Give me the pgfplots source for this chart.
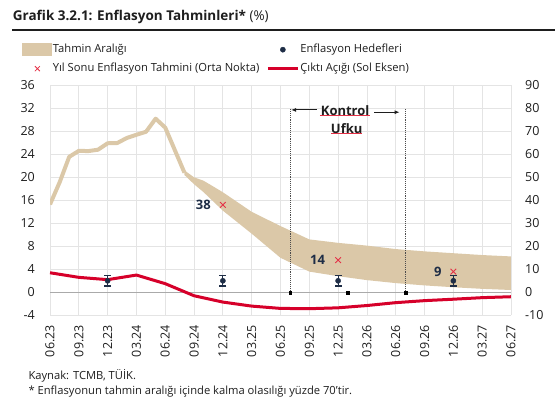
\documentclass[border=0pt]{standalone}
\usepackage{pgfplots}
\pgfplotsset{compat=1.18}
\usetikzlibrary{arrows.meta}
\usepackage{fontspec}
\setmainfont{Open Sans}
\definecolor{tanc}{RGB}{219,200,168}
\definecolor{redc}{RGB}{214,0,42}
\definecolor{crossc}{RGB}{228,48,70}
\definecolor{navyc}{RGB}{30,45,70}
\definecolor{gridc}{RGB}{228,228,228}
\definecolor{zeroc}{RGB}{170,170,170}
\definecolor{textc}{RGB}{30,30,30}
\begin{document}
\begin{tikzpicture}
\useasboundingbox (0pt,-397pt) rectangle (555pt,0pt);
\node[anchor=base west, inner sep=0pt, font=\fontsize{13.5}{16}\selectfont, text=textc] at (12.7pt,-20pt) {\textbf{Grafik 3.2.1: Enflasyon Tahminleri*} (\%)};
\draw[line width=1.2pt, textc] (12pt,-30pt) -- (555pt,-30pt);

\begin{axis}[at={(50pt,-315.3pt)}, anchor=south west, scale only axis,
  width=461pt, height=230pt, xmin=0, xmax=48, ymin=-4, ymax=36,
  xtick={0,3,...,48},
  xticklabels={06.23,09.23,12.23,03.24,06.24,09.24,12.24,03.25,06.25,09.25,12.25,03.26,06.26,09.26,12.26,03.27,06.27},
  ytick={-4,0,...,36},
  axis line style={draw=none}, major tick length=0pt,
  grid=major, grid style={gridc, line width=0.8pt},
  tick label style={font=\fontsize{12.5}{14}\selectfont, text=textc},
  /pgf/number format/assume math mode=true,
  yticklabel style={inner sep=0pt, xshift=-15pt},
  xticklabel style={yshift=-9.7pt, rotate=90, anchor=east, inner sep=0pt},
  ]
\addplot[zeroc, line width=1.3pt] coordinates {(0,0) (48,0)};
\addplot[redc, line width=3pt, line join=round] coordinates {
(0,3.4) (3,2.6) (6,2.2) (9,3.0) (12,1.5) (15,-0.6) (18,-1.7) (21,-2.4) (24,-2.8)
(27,-2.85) (30,-2.7) (33,-2.3) (36,-1.8) (39,-1.45) (42,-1.2) (45,-0.93) (48,-0.77)};
\end{axis}

\begin{axis}[at={(50pt,-315.3pt)}, anchor=south west, scale only axis,
  width=461pt, height=230pt, xmin=0, xmax=48, ymin=-10, ymax=90,
  xtick=\empty, ytick={-10,0,...,90}, yticklabel pos=right,
  axis line style={draw=none}, major tick length=0pt,
  tick label style={font=\fontsize{12.5}{14}\selectfont, text=textc},
  /pgf/number format/assume math mode=true,
  yticklabel style={inner sep=0pt, xshift=14pt},
  legend columns=2, legend cell align=left,
  legend style={at={(axis description cs:-0.0614,1.184)}, anchor=north west,
    draw=none, fill=none, inner sep=0pt, row sep=6pt,
    font=\fontsize{11.2}{13}\selectfont, text=textc,
    nodes={inner sep=1pt, text height=8.2pt, text depth=2.8pt},
    /tikz/every even column/.append style={column sep=6pt}},
  ]
\addplot[fill=tanc, draw=none, legend image code/.code={\fill[tanc] (0pt,-6.3pt) rectangle (30pt,6.3pt);}] coordinates {
(14,53) (15,50.0) (16,48.5) (18,43.5) (21,35.0) (24,28.8) (27,23.0) (30,21.5)
(33,20.3) (36,18.8) (39,17.8) (42,17.0) (45,16.2) (48,15.6)
(48,1.0) (45,1.5) (42,2.2) (39,3.0) (36,4.0) (33,5.3) (30,7.0) (27,9.0) (24,15.0)
(21,25.5) (18,35.5) (16,43.5) (15,47.0) (14,51)};
\addlegendentry{Tahmin Aralığı}
\addplot[tanc, line width=4pt, line join=round, forget plot] coordinates {
(0,38.2) (1,47.8) (2,58.9) (3,61.5) (4,61.4) (5,62.0) (6,64.8) (7,64.9) (8,67.1)
(9,68.5) (10,69.8) (11,75.5) (12,71.6) (13,61.8) (14,52.0)};
\addplot[only marks, mark=*, mark size=2.6pt, navyc, forget plot,
  error bars/.cd, y dir=both, y explicit, error mark=|,
  error mark options={line width=1.3pt, mark size=3.5pt, navyc},
  error bar style={line width=1pt, navyc}]
  coordinates {(6,5) +- (0,2.3) (18,5) +- (0,2.3) (30,5) +- (0,2.3) (42,5) +- (0,2.3)};
\addlegendimage{legend image code/.code={\path[draw=none] (0pt,0pt) -- (30pt,0pt); \fill[navyc] (15pt,0pt) circle (2.6pt);}}
\addlegendentry{Enflasyon Hedefleri}
\addplot[only marks, mark=x, mark size=4pt, crossc, line width=0.9pt, forget plot] coordinates {(18,38) (30,14) (42,9)};
\addlegendimage{legend image code/.code={\path[draw=none] (0pt,0pt) -- (30pt,0pt); \draw[crossc, line width=0.8pt] (13pt,-2.5pt)--(18pt,2.5pt) (13pt,2.5pt)--(18pt,-2.5pt);}}
\addlegendentry{Yıl Sonu Enflasyon Tahmini (Orta Nokta)}
\addlegendimage{legend image code/.code={\draw[redc, line width=3pt] (0pt,0pt) -- (30pt,0pt);}}
\addlegendentry{Çıktı Açığı (Sol Eksen)}
\addplot[densely dotted, line width=0.9pt, black!70, forget plot] coordinates {(25,0) (25,80)};
\addplot[densely dotted, line width=0.9pt, black!70, forget plot] coordinates {(37,0) (37,80)};
\addplot[only marks, mark=square*, mark size=1.4pt, black, forget plot] coordinates {(25,0) (31,0) (37,0)};
\node[anchor=east, inner sep=0pt, font=\fontsize{13}{15}\selectfont\bfseries, text=navyc, xshift=-12pt] at (axis cs:18,38) {38};
\node[anchor=east, inner sep=0pt, font=\fontsize{13}{15}\selectfont\bfseries, text=navyc, xshift=-13pt] at (axis cs:30,14) {14};
\node[anchor=east, inner sep=0pt, font=\fontsize{13}{15}\selectfont\bfseries, text=navyc, xshift=-11.6pt] at (axis cs:42,9) {9};
\node[inner sep=0pt, font=\fontsize{13}{15}\selectfont\bfseries, text=textc] at (axis cs:30.73,78.96) {Kontrol};
\node[inner sep=0pt, font=\fontsize{13}{15}\selectfont\bfseries, text=textc] at (axis cs:30.89,71.3) {Ufku};
\draw[-{Latex[length=5pt,width=4pt]}, line width=0.9pt, textc] (axis cs:27.77,79.3) -- (axis cs:25.1,79.3);
\draw[-{Latex[length=5pt,width=4pt]}, line width=0.9pt, textc] (axis cs:33.75,78.3) -- (axis cs:36.4,78.3);
\draw[crossc, line width=0.5pt] (axis cs:28.1,77.1) -- (axis cs:33.3,77.1);
\draw[crossc, line width=0.5pt] (axis cs:29.3,69.1) -- (axis cs:32.5,69.1);
\end{axis}

\node[anchor=base west, inner sep=0pt, font=\fontsize{11.2}{13}\selectfont, text=textc] at (28.3pt,-379.3pt) {Kaynak: TCMB, TÜİK.};
\node[anchor=base west, inner sep=0pt, font=\fontsize{11.2}{13}\selectfont, text=textc] at (28.3pt,-394pt) {* Enflasyonun tahmin aralığı içinde kalma olasılığı yüzde 70’tir.};
\end{tikzpicture}
\end{document}
